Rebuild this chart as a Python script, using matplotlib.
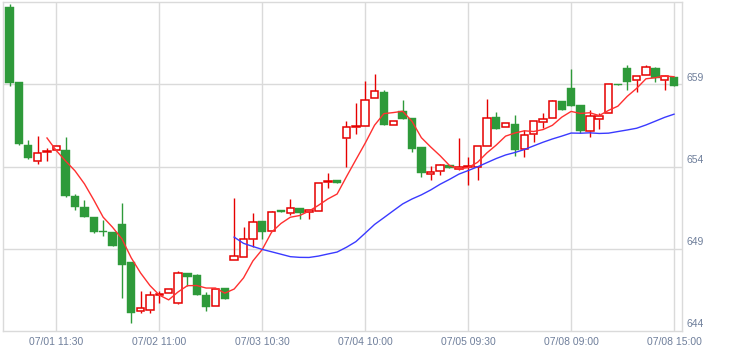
import numpy as np
import pandas as pd
import matplotlib
matplotlib.use("Agg")
import matplotlib.pyplot as plt
import matplotlib.transforms as mtransforms

# 30-minute candles
opens = [663.70, 659.12, 655.28, 654.35, 654.88, 655.02, 654.98, 652.19, 651.56, 650.95,
         650.10, 650.04, 650.50, 648.20, 645.24, 645.30, 646.20, 646.30, 645.69, 647.52,
         647.41, 646.20, 645.50, 646.62, 648.31, 648.50, 649.59, 650.71, 650.08, 651.38,
         651.18, 651.48, 651.24, 651.30, 653.07, 653.20, 655.75, 656.42, 656.48, 658.17,
         658.50, 656.54, 657.35, 656.93, 655.16, 653.55, 653.74, 654.12, 653.86, 653.96,
         653.98, 655.26, 657.03, 656.38, 656.60, 655.08, 655.99, 656.72, 656.93, 657.96,
         658.76, 657.72, 656.17, 656.89, 657.28, 659.00, 659.96, 659.23, 659.55, 659.96,
         659.23, 659.43]
highs = [663.90, 659.12, 655.59, 655.83, 655.10, 655.22, 655.77, 652.33, 651.97, 650.95,
         650.77, 650.04, 651.80, 648.20, 646.44, 646.44, 646.44, 646.54, 647.66, 647.52,
         647.45, 646.40, 646.54, 646.62, 652.09, 650.34, 651.20, 650.71, 651.32, 651.38,
         652.03, 651.48, 651.36, 653.00, 653.60, 653.20, 656.79, 657.88, 659.20, 659.65,
         658.63, 656.74, 658.02, 656.93, 655.16, 654.04, 654.18, 654.12, 655.75, 654.60,
         655.26, 658.13, 657.29, 656.66, 657.15, 656.20, 656.76, 657.25, 658.02, 657.96,
         659.91, 657.72, 657.46, 657.24, 659.04, 659.00, 660.16, 659.50, 660.16, 660.06,
         659.55, 659.43]
lows = [658.90, 655.30, 654.45, 654.16, 654.35, 655.02, 652.13, 651.36, 650.91, 649.96,
        649.80, 649.14, 645.98, 644.47, 645.12, 645.12, 645.73, 646.30, 645.66, 646.74,
        646.21, 645.22, 645.50, 645.97, 648.31, 648.50, 649.08, 649.59, 650.08, 651.21,
        651.08, 650.81, 650.81, 651.30, 652.68, 653.00, 654.00, 655.95, 656.48, 658.17,
        656.52, 656.54, 656.88, 654.90, 653.37, 653.15, 653.51, 653.92, 653.80, 652.90,
        653.15, 655.26, 656.30, 656.38, 654.65, 654.57, 655.48, 656.34, 656.93, 657.46,
        657.68, 656.05, 655.80, 656.30, 657.28, 658.96, 658.68, 658.55, 659.55, 659.16,
        658.68, 658.90]
closes = [659.08, 655.36, 654.50, 654.83, 654.90, 655.22, 652.19, 651.52, 650.91, 649.99,
          649.99, 649.14, 648.00, 645.12, 645.39, 646.17, 646.24, 646.54, 647.52, 647.31,
          646.21, 645.48, 646.54, 645.97, 648.56, 649.59, 650.63, 650.02, 651.24, 651.21,
          651.48, 651.15, 651.36, 653.00, 653.13, 653.00, 656.42, 656.48, 658.07, 658.58,
          656.52, 656.74, 656.88, 655.04, 653.59, 653.68, 654.10, 653.92, 653.94, 654.04,
          655.26, 656.97, 656.30, 656.66, 654.99, 655.93, 656.76, 656.88, 657.96, 657.46,
          657.68, 656.15, 657.09, 657.10, 659.04, 658.96, 659.14, 659.50, 660.02, 659.37,
          659.50, 658.90]

tick_pos = [5, 16, 27, 38, 49, 60, 71]
tick_labels = ["07/01 11:30", "07/02 11:00", "07/03 10:30", "07/04 10:00",
               "07/05 09:30", "07/08 09:00", "07/08 15:00"]
price_ticks = [644, 649, 654, 659]

UP = "#e60000"
DOWN = "#2e9a3a"
GRID = "#dadada"
LABEL = "#6f7f9b"

plt.rcParams["font.family"] = ["Liberation Sans", "DejaVu Sans"]


def draw_candles(ax, o, h, l, c):
    x = np.arange(len(o))
    o, h, l, c = map(np.asarray, (o, h, l, c))
    up = c >= o
    top = np.maximum(o, c)
    bot = np.minimum(o, c)
    height = np.maximum(top - bot, 0.06)

    # wicks: red ones stop at the hollow box edges
    ax.vlines(x[up], top[up], h[up], color=UP, lw=1.0, zorder=2)
    ax.vlines(x[up], l[up], bot[up], color=UP, lw=1.0, zorder=2)
    ax.vlines(x[~up], l[~up], h[~up], color=DOWN, lw=1.0, zorder=2)

    ax.bar(x[~up], height[~up], bottom=bot[~up], width=0.9,
           color=DOWN, edgecolor=DOWN, lw=0.3, zorder=3)
    ax.bar(x[up], height[up], bottom=bot[up], width=0.8,
           facecolor="white", edgecolor=UP, lw=1.1, zorder=3)


fig = plt.figure(figsize=(7.29, 3.53), dpi=100)
ax = fig.add_axes([3 / 729, 1 - 331 / 353, 679 / 729, 329 / 353])

for yv in price_ticks[1:]:
    ax.axhline(yv, color=GRID, lw=1.0, zorder=0)
for xv in tick_pos:
    ax.axvline(xv, color=GRID, lw=1.0, zorder=0)

draw_candles(ax, opens, highs, lows, closes)

close_s = pd.Series(closes)
ma5 = close_s.rolling(5).mean()
ma25 = close_s.rolling(25).mean()
ax.plot(ma5.index, ma5.values, color="#ff3030", lw=1.0, zorder=4)
ax.plot(ma25.index, ma25.values, color="#3a3aff", lw=1.0, zorder=4)

ax.set_xlim(-0.7, 71.85)
ax.set_ylim(644, 664)

for sp in ax.spines.values():
    sp.set_color(GRID)
    sp.set_linewidth(1.0)

ax.set_xticks(tick_pos)
ax.set_xticklabels(tick_labels, color=LABEL, fontsize=7.5)
ax.tick_params(axis="x", length=0, pad=4)
ax.set_yticks([])

trans = mtransforms.blended_transform_factory(ax.transAxes, ax.transData)
for yv in price_ticks:
    ax.text(1.006, yv + 0.1, str(yv), transform=trans, ha="left", va="bottom",
            color=LABEL, fontsize=7.5)

fig.savefig("out.png", dpi=100)
